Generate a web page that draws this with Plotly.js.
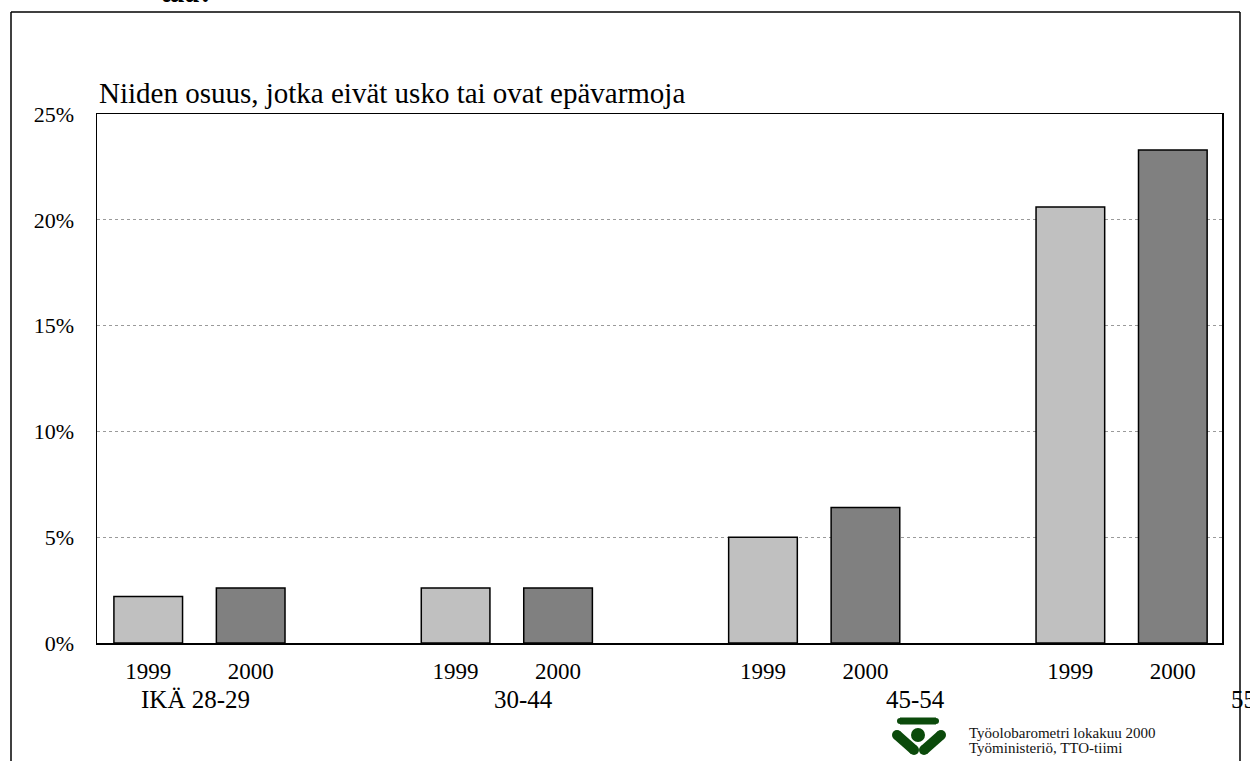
<!DOCTYPE html>
<html>
<head>
<meta charset="utf-8">
<script src="https://cdn.plot.ly/plotly-3.0.1.min.js"></script>
<style>html,body{margin:0;padding:0;background:#fff;overflow:hidden}#chart{width:1250px;height:761px}</style>
</head>
<body>
<div id="chart"></div>
<script>
// ---- data ----
const groups = ['IKÄ 28-29', '30-44', '45-54', '55'];
const years = ['1999', '2000'];
const values1999 = [2.2, 2.6, 5.0, 20.6];
const values2000 = [2.6, 2.6, 6.4, 23.3];
const yTicks = [0, 5, 10, 15, 20, 25];
const chartTitle = 'Niiden osuus, jotka eivät usko tai ovat epävarmoja';
const footer1 = 'Työolobarometri lokakuu 2000';
const footer2 = 'Työministeriö, TTO-tiimi';
const topCut = 'taa?';

// ---- layout helpers ----
const W = 1250, H = 761;
const L = 97, R = 1222, T = 114, B = 643;
const px = x => (x - L) / (R - L);
const py = y => (B - y) / (B - T);
const serif = '"Liberation Serif", "Times New Roman", serif';

const slot = 3; // slots per group: 1999, 2000, gap
const x1999 = groups.map((g, i) => i * slot);
const x2000 = groups.map((g, i) => i * slot + 1);
const tickvals = [], ticktext = [];
groups.forEach((g, i) => { tickvals.push(i * slot, i * slot + 1); ticktext.push(years[0], years[1]); });

const barLine = {color: '#000', width: 1.5};
const traces = [
  {type: 'bar', name: years[0], x: x1999, y: values1999, width: 0.67,
   marker: {color: '#c0c0c0', line: barLine}, hoverinfo: 'y'},
  {type: 'bar', name: years[1], x: x2000, y: values2000, width: 0.67,
   marker: {color: '#808080', line: barLine}, hoverinfo: 'y'}
];

const groupLabelPx = [195, 523, 915, 1229];
const annotations = groups.map((g, i) => ({
  xref: 'paper', yref: 'paper', x: px(groupLabelPx[i]), y: py(699),
  xanchor: i === groups.length - 1 ? 'left' : 'center', yanchor: 'middle',
  text: g, showarrow: false, font: {family: serif, size: 25, color: '#000'}
}));
annotations.push(
  {xref: 'paper', yref: 'paper', x: 0, y: py(93), xanchor: 'left', yanchor: 'middle',
   text: chartTitle, showarrow: false, font: {family: serif, size: 29, color: '#000'}},
  {xref: 'paper', yref: 'paper', x: px(967), y: py(733), xanchor: 'left', yanchor: 'middle',
   text: footer1, showarrow: false, font: {family: serif, size: 15, color: '#111'}},
  {xref: 'paper', yref: 'paper', x: px(967), y: py(748), xanchor: 'left', yanchor: 'middle',
   text: footer2, showarrow: false, font: {family: serif, size: 15, color: '#111'}},
  {xref: 'paper', yref: 'paper', x: px(188), y: py(-9), xanchor: 'center', yanchor: 'middle',
   text: '<b><i>' + topCut + '</i></b>', showarrow: false, font: {family: serif, size: 30, color: '#000'}}
);

const green = '#0b4a0b';
const shapes = [
  // outer frame
  {type: 'line', xref: 'paper', yref: 'paper', x0: px(11), x1: px(11), y0: py(12), y1: py(770), line: {color: '#000', width: 1.5}},
  {type: 'line', xref: 'paper', yref: 'paper', x0: px(11), x1: px(1240), y0: py(12), y1: py(12), line: {color: '#000', width: 1.5}},
  {type: 'line', xref: 'paper', yref: 'paper', x0: px(1240), x1: px(1240), y0: py(12), y1: py(770), line: {color: '#000', width: 1.5}},
  // logo
  {type: 'line', xref: 'paper', yref: 'paper', x0: px(900), x1: px(936), y0: py(721), y1: py(721), line: {color: green, width: 7}},
  {type: 'circle', xref: 'paper', yref: 'paper', x0: px(897), x1: px(903), y0: py(718), y1: py(724), fillcolor: green, line: {width: 0}},
  {type: 'circle', xref: 'paper', yref: 'paper', x0: px(933), x1: px(939), y0: py(718), y1: py(724), fillcolor: green, line: {width: 0}},
  {type: 'circle', xref: 'paper', yref: 'paper', x0: px(911), x1: px(925), y0: py(728), y1: py(742), fillcolor: green, line: {width: 0}},
  {type: 'line', xref: 'paper', yref: 'paper', x0: px(897), x1: px(914), y0: py(735), y1: py(750), line: {color: green, width: 10}},
  {type: 'circle', xref: 'paper', yref: 'paper', x0: px(892), x1: px(902), y0: py(730), y1: py(740), fillcolor: green, line: {width: 0}},
  {type: 'circle', xref: 'paper', yref: 'paper', x0: px(909), x1: px(919), y0: py(745), y1: py(755), fillcolor: green, line: {width: 0}},
  {type: 'line', xref: 'paper', yref: 'paper', x0: px(941), x1: px(924), y0: py(735), y1: py(750), line: {color: green, width: 10}},
  {type: 'circle', xref: 'paper', yref: 'paper', x0: px(936), x1: px(946), y0: py(730), y1: py(740), fillcolor: green, line: {width: 0}},
  {type: 'circle', xref: 'paper', yref: 'paper', x0: px(919), x1: px(929), y0: py(745), y1: py(755), fillcolor: green, line: {width: 0}}
];

const layout = {
  width: W, height: H,
  margin: {l: L, r: W - R, t: T, b: H - B, pad: 0},
  paper_bgcolor: '#fff', plot_bgcolor: '#fff',
  showlegend: false,
  barmode: 'overlay',
  xaxis: {
    type: 'linear', range: [-0.5, 10.48], tickmode: 'array', tickvals: tickvals, ticktext: ticktext,
    showgrid: false, zeroline: false, showline: true, mirror: true, linecolor: '#000', linewidth: 1.5,
    ticks: '', ticklabelstandoff: 7,
    tickfont: {family: serif, size: 23, color: '#000'}, fixedrange: true
  },
  yaxis: {
    range: [0, 25], tickmode: 'array', tickvals: yTicks, ticktext: yTicks.map(v => v + '%'),
    showgrid: true, gridcolor: '#9a9a9a', griddash: 'dot', gridwidth: 1,
    zeroline: false, showline: true, mirror: true, linecolor: '#000', linewidth: 1.5,
    ticks: '', ticklabelstandoff: 17,
    tickfont: {family: serif, size: 22, color: '#000'}, fixedrange: true
  },
  annotations: annotations,
  shapes: shapes
};

Plotly.newPlot('chart', traces, layout, {displayModeBar: false, staticPlot: true});
</script>
</body>
</html>
